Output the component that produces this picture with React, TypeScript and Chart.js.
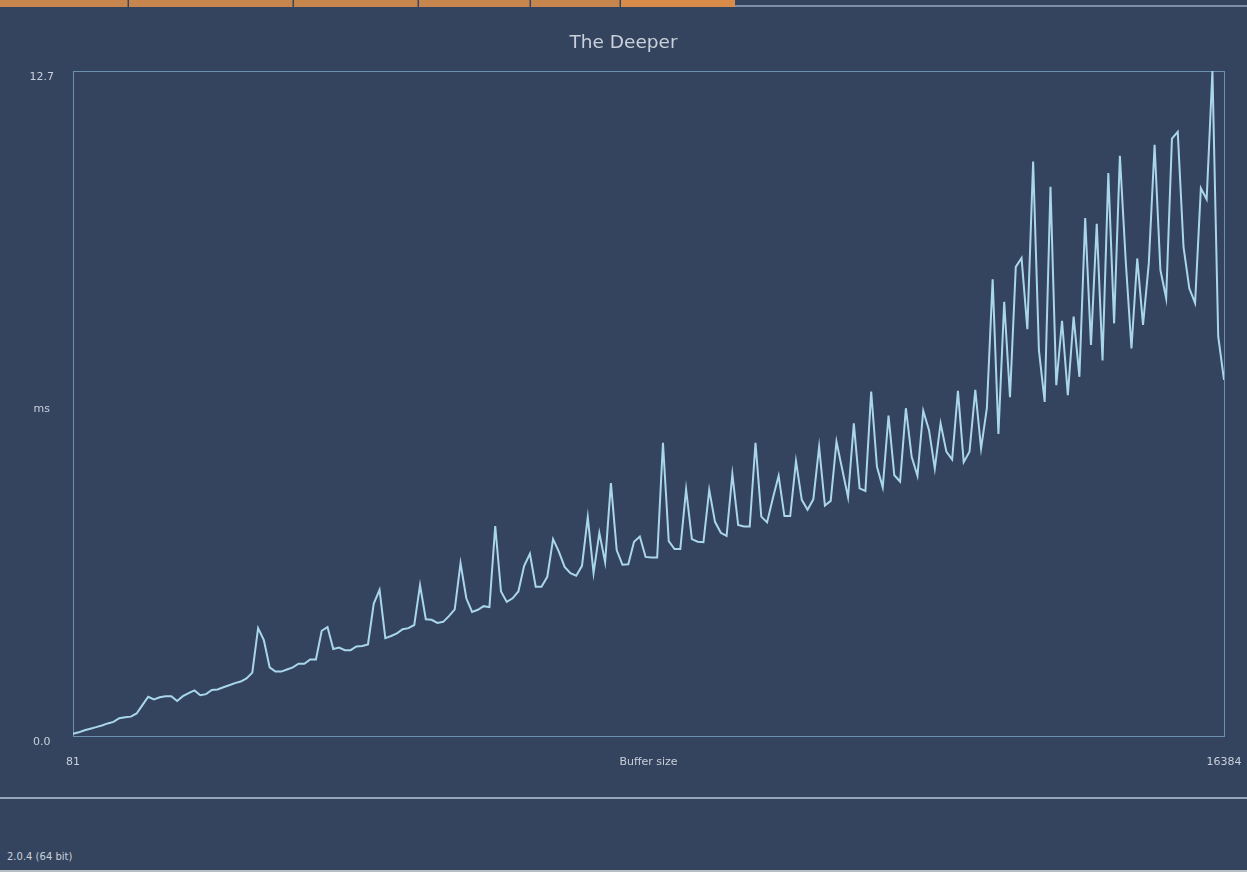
import React, { useEffect, useRef } from 'react';
import { Chart, registerables } from 'chart.js';

Chart.register(...registerables);

const TITLE = 'The Deeper';
const X_TICK_LABELS = ['81', 'Buffer size', '16384'];
const Y_TICK_LABELS = ['0.0', 'ms', '12.7'];
const Y_MIN = 0;
const Y_MAX = 12.7;
const VERSION_TEXT = '2.0.4 (64 bit)';

// milliseconds per buffer step
const MS_VALUES = [
  0.04, 0.07, 0.11, 0.14, 0.17, 0.2, 0.24, 0.27, 0.34, 0.36,
  0.37, 0.43, 0.59, 0.75, 0.7, 0.74, 0.76, 0.76, 0.67, 0.76,
  0.82, 0.87, 0.78, 0.8, 0.88, 0.89, 0.93, 0.97, 1.01, 1.04,
  1.1, 1.21, 2.06, 1.83, 1.31, 1.23, 1.23, 1.27, 1.31, 1.38,
  1.38, 1.46, 1.46, 2.01, 2.08, 1.66, 1.69, 1.64, 1.64, 1.71,
  1.72, 1.75, 2.53, 2.79, 1.87, 1.91, 1.96, 2.04, 2.06, 2.12,
  2.88, 2.23, 2.22, 2.16, 2.18, 2.29, 2.42, 3.3, 2.63, 2.37,
  2.41, 2.48, 2.46, 4.01, 2.76, 2.56, 2.63, 2.76, 3.25, 3.48,
  2.85, 2.85, 3.04, 3.76, 3.52, 3.23, 3.11, 3.06, 3.25, 4.18,
  3.11, 3.88, 3.32, 4.83, 3.55, 3.27, 3.28, 3.71, 3.81, 3.42,
  3.41, 3.41, 5.6, 3.72, 3.57, 3.57, 4.71, 3.76, 3.71, 3.7,
  4.7, 4.09, 3.88, 3.82, 5.0, 4.03, 4.0, 4.0, 5.6, 4.19,
  4.08, 4.54, 4.97, 4.2, 4.2, 5.25, 4.51, 4.32, 4.52, 5.52,
  4.4, 4.49, 5.62, 5.09, 4.56, 5.97, 4.73, 4.68, 6.58, 5.14,
  4.75, 6.12, 4.98, 4.86, 6.26, 5.33, 4.97, 6.21, 5.84, 5.11,
  5.97, 5.43, 5.28, 6.59, 5.23, 5.43, 6.61, 5.49, 6.26, 8.72,
  5.77, 8.29, 6.47, 8.96, 9.13, 7.77, 10.97, 7.37, 6.38, 10.49,
  6.7, 7.93, 6.51, 8.01, 6.86, 9.89, 7.47, 9.78, 7.17, 10.75,
  7.88, 11.08, 9.09, 7.4, 9.12, 7.85, 9.03, 11.29, 8.9, 8.36,
  11.41, 11.54, 9.34, 8.55, 8.27, 10.46, 10.25, 12.7, 7.63, 6.8,
];

const BG = '#34445f';
const FRAME = '#6f8fb1';
const LINE = '#a9d6ea';
const TEXT = '#c9d0da';
const FONT = 'DejaVu Sans';

export default function App() {
  const ref = useRef<HTMLCanvasElement>(null);

  useEffect(() => {
    document.body.style.margin = '0';
    document.body.style.background = BG;
    const canvas = ref.current!;
    const framePlugin = {
      id: 'frame',
      beforeDatasetsDraw(chart: any) {
        const { ctx, chartArea: a } = chart;
        ctx.save();
        ctx.strokeStyle = FRAME;
        ctx.lineWidth = 1;
        ctx.strokeRect(a.left + 0.5, a.top + 0.5, a.right - a.left, a.bottom - a.top);
        ctx.restore();
      },
    };
    const chart = new Chart(canvas, {
      type: 'line',
      data: {
        datasets: [
          {
            data: MS_VALUES.map((v, i) => ({ x: i, y: v })),
            borderColor: LINE,
            borderWidth: 2,
            pointRadius: 0,
            tension: 0,
            fill: false,
          },
        ],
      },
      options: {
        animation: false,
        responsive: false,
        maintainAspectRatio: false,
        layout: { autoPadding: false, padding: { left: 0, right: 0, top: 20, bottom: 96 } },
        plugins: {
          legend: { display: false },
          tooltip: { enabled: false },
          title: {
            display: true,
            text: TITLE,
            color: TEXT,
            font: { family: FONT, size: 18.5, weight: 'normal', lineHeight: 1.2 },
            padding: { top: 12, bottom: 16.8 },
          },
        },
        scales: {
          x: {
            type: 'linear',
            min: 0,
            max: MS_VALUES.length - 1,
            grid: { display: false, drawTicks: false },
            border: { display: false },
            afterBuildTicks: (s: any) => {
              s.ticks = [{ value: s.min }, { value: (s.min + s.max) / 2 }, { value: s.max }];
            },
            afterFit: (s: any) => {
              s.height = 40;
              s.paddingLeft = 0;
              s.paddingRight = 23;
            },
            ticks: {
              autoSkip: false,
              maxRotation: 0,
              padding: 20,
              color: TEXT,
              font: { family: FONT, size: 11 },
              callback: (_v: any, i: number) => X_TICK_LABELS[i],
            },
          },
          y: {
            min: Y_MIN,
            max: Y_MAX,
            grid: { display: false, drawTicks: false },
            border: { display: false },
            afterBuildTicks: (s: any) => {
              s.ticks = [{ value: Y_MIN }, { value: (Y_MIN + Y_MAX) / 2 }, { value: Y_MAX }];
            },
            afterFit: (s: any) => {
              s.width = 73;
              s.paddingTop = 0;
              s.paddingBottom = 0;
            },
            ticks: {
              autoSkip: false,
              crossAlign: 'center',
              padding: 19,
              labelOffset: 6,
              color: TEXT,
              font: { family: FONT, size: 11 },
              callback: (_v: any, i: number) => Y_TICK_LABELS[i],
            },
          },
        },
      },
      plugins: [framePlugin],
    } as any);
    return () => chart.destroy();
  }, []);

  const seg = (left: number, width: number, color: string) => (
    <div
      style={{
        position: 'absolute',
        left,
        top: 0,
        width,
        height: 7,
        background: color,
        borderRight: '1px solid #7a6a5a',
        boxSizing: 'border-box',
      }}
    />
  );

  return (
    <div style={{ position: 'relative', width: 1247, height: 872, background: BG, overflow: 'hidden' }}>
      {seg(0, 128, '#c8864f')}
      {seg(129, 164, '#c8864f')}
      {seg(294, 124, '#c8864f')}
      {seg(419, 111, '#c8864f')}
      {seg(531, 89, '#c8864f')}
      <div style={{ position: 'absolute', left: 621, top: 0, width: 114, height: 7, background: '#d98c4a' }} />
      <div style={{ position: 'absolute', left: 735, top: 5, width: 512, height: 2, background: '#7d8ea6' }} />
      <div style={{ position: 'absolute', left: 0, top: 797, width: 1247, height: 2, background: '#97a6b8' }} />
      <div
        style={{
          position: 'absolute',
          left: 7,
          top: 851,
          fontFamily: FONT,
          fontSize: 10,
          color: TEXT,
        }}
      >
        {VERSION_TEXT}
      </div>
      <div style={{ position: 'absolute', left: 0, top: 870, width: 1247, height: 2, background: '#b8bec6' }} />
      <canvas ref={ref} width={1247} height={872} style={{ position: 'absolute', left: 0, top: 0 }} />
    </div>
  );
}
